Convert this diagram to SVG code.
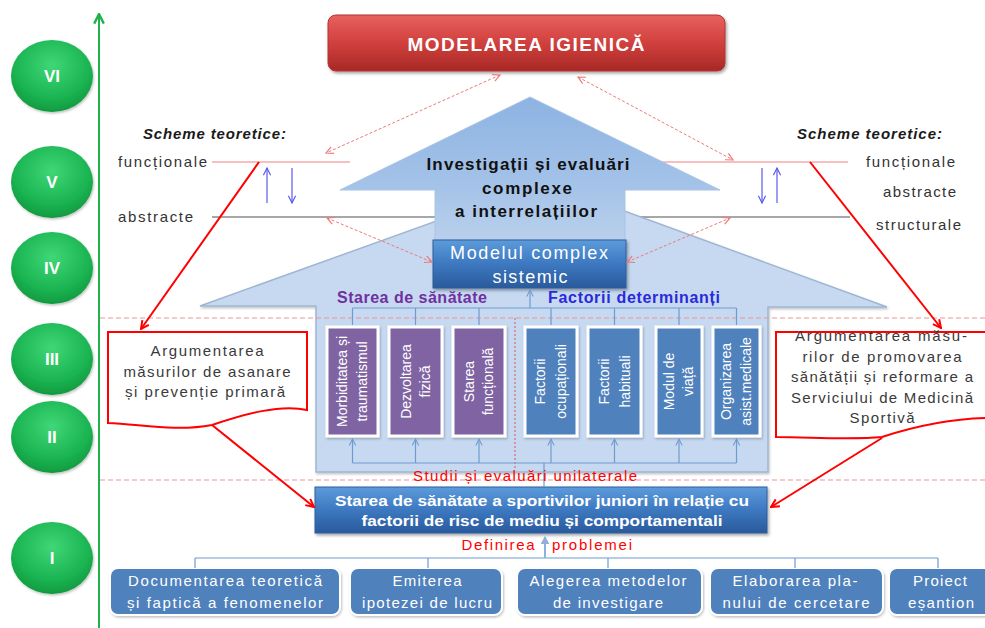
<svg xmlns="http://www.w3.org/2000/svg" width="985" height="628" viewBox="0 0 985 628">
<defs>
<style>
text{font-family:"Liberation Sans",Arial,sans-serif}
.num{fill:#fff;font-weight:bold;font-size:17px;text-anchor:middle}
.lbl{fill:#333;font-size:15px}
.sch{fill:#1a1a1a;font-size:15px;font-weight:bold;font-style:italic}
.arg{fill:#3a3a3a;font-size:15px;text-anchor:middle}
.col{fill:#fff;font-size:14px;text-anchor:middle}
.bot{fill:#fff;font-size:15px;text-anchor:middle}
.redt{fill:#FF0000;font-size:15px;text-anchor:middle}
.thick{stroke:#FF0000;stroke-width:2;fill:none}
.dash{stroke:#F07878;stroke-width:1;stroke-dasharray:3 2;fill:none}
.conn{stroke:#6F9BD1;stroke-width:1.2;fill:none}
.blue{stroke:#5A5AF0;stroke-width:1.2;fill:none}
.pcol{fill:#8064A2;stroke:#fff;stroke-width:3}
.bcol{fill:#4F81BD;stroke:#fff;stroke-width:3}
.bbox{fill:#4F81BD;stroke:#fff;stroke-width:2}
.doc{fill:#fff;stroke:#FF0000;stroke-width:2}
</style>
<radialGradient id="gGreen" cx="50%" cy="35%" r="65%">
<stop offset="0" stop-color="#3FD777"/>
<stop offset="0.7" stop-color="#1BB452"/>
<stop offset="1" stop-color="#109A3F"/>
</radialGradient>
<linearGradient id="gRed" x1="0" y1="0" x2="0" y2="1">
<stop offset="0" stop-color="#E8615E"/>
<stop offset="0.5" stop-color="#D0403D"/>
<stop offset="1" stop-color="#A82826"/>
</linearGradient>
<linearGradient id="gBlueBox" x1="0" y1="0" x2="0" y2="1">
<stop offset="0" stop-color="#5C9BDB"/>
<stop offset="0.5" stop-color="#3D78C0"/>
<stop offset="1" stop-color="#2A5A9C"/>
</linearGradient>
<linearGradient id="gArrow" x1="0" y1="0" x2="0" y2="1">
<stop offset="0" stop-color="#8DB3E2"/>
<stop offset="0.6" stop-color="#A3C2E8"/>
<stop offset="1" stop-color="#B9D0EC"/>
</linearGradient>
<filter id="sh" x="-10%" y="-10%" width="130%" height="140%">
<feDropShadow dx="1.5" dy="2" stdDeviation="1.5" flood-color="#000" flood-opacity="0.35"/>
</filter>
<filter id="shs" x="-10%" y="-10%" width="130%" height="130%">
<feDropShadow dx="1" dy="1.5" stdDeviation="1" flood-color="#000" flood-opacity="0.25"/>
</filter>
<marker id="mRed" viewBox="0 0 10 10" refX="9" refY="5" markerWidth="10" markerHeight="10" markerUnits="userSpaceOnUse" orient="auto">
<path d="M1,1 L9,5 L1,9" fill="none" stroke="#FF0000" stroke-width="2"/>
</marker>
<marker id="mDash" viewBox="0 0 10 10" refX="9" refY="5" markerWidth="9" markerHeight="9" markerUnits="userSpaceOnUse" orient="auto-start-reverse">
<path d="M1,1 L9,5 L1,9" fill="none" stroke="#F07878" stroke-width="1.3"/>
</marker>
<marker id="mBlue" viewBox="0 0 10 10" refX="9" refY="5" markerWidth="9" markerHeight="9" markerUnits="userSpaceOnUse" orient="auto">
<path d="M1,1 L9,5 L1,9" fill="none" stroke="#5A5AF0" stroke-width="1.3"/>
</marker>
<marker id="mConn" viewBox="0 0 10 10" refX="9" refY="5" markerWidth="8" markerHeight="8" markerUnits="userSpaceOnUse" orient="auto">
<path d="M1,1 L9,5 L1,9" fill="none" stroke="#6F9BD1" stroke-width="1.3"/>
</marker>
<marker id="mIcon" viewBox="0 0 10 10" refX="8" refY="5" markerWidth="9" markerHeight="9" markerUnits="userSpaceOnUse" orient="auto">
<path d="M0,0 L9,5 L0,10 Z" fill="#8FB0D8"/>
</marker>
<marker id="mGreen" viewBox="0 0 10 10" refX="9" refY="5" markerWidth="12" markerHeight="12" markerUnits="userSpaceOnUse" orient="auto">
<path d="M1,1 L9,5 L1,9" fill="none" stroke="#22B24C" stroke-width="2"/>
</marker>
</defs>

<rect width="985" height="628" fill="#fff"/>

<!-- level axis -->
<g id="axis">
<path d="M99,628 V14" stroke="#22B24C" stroke-width="2" fill="none" marker-end="url(#mGreen)"/>
</g>
<g id="level-VI"><ellipse cx="52" cy="76" rx="41" ry="36" fill="url(#gGreen)" filter="url(#shs)"/><text class="num" x="52" y="82">VI</text></g>
<g id="level-V"><ellipse cx="52" cy="182" rx="41" ry="36" fill="url(#gGreen)" filter="url(#shs)"/><text class="num" x="52" y="188">V</text></g>
<g id="level-IV"><ellipse cx="52" cy="268" rx="41" ry="36" fill="url(#gGreen)" filter="url(#shs)"/><text class="num" x="52" y="274">IV</text></g>
<g id="level-III"><ellipse cx="52" cy="359" rx="41" ry="36" fill="url(#gGreen)" filter="url(#shs)"/><text class="num" x="52" y="365">III</text></g>
<g id="level-II"><ellipse cx="52" cy="437" rx="41" ry="36" fill="url(#gGreen)" filter="url(#shs)"/><text class="num" x="52" y="443">II</text></g>
<g id="level-I"><ellipse cx="52" cy="558" rx="41" ry="36" fill="url(#gGreen)" filter="url(#shs)"/><text class="num" x="52" y="564">I</text></g>

<!-- scheme lines -->
<g id="scheme-lines">
<path d="M212,162 H350" stroke="#F08080" stroke-width="1.2" fill="none"/>
<path d="M655,162 H848" stroke="#F08080" stroke-width="1.2" fill="none"/>
<path d="M212,217 H440" stroke="#8A8A8A" stroke-width="1.5" fill="none"/>
<path d="M620,217 H850" stroke="#8A8A8A" stroke-width="1.5" fill="none"/>
</g>

<!-- house -->
<g id="house">
<polygon points="200,306 545,182 887,307 768,307 768,472 316,472 316,306" fill="#C6D9F1" stroke="#9FB6D3" stroke-width="1.5" filter="url(#shs)"/>
</g>

<!-- big arrow -->
<g id="investigatii">
<polygon points="530,97 720,190 625,190 625,240 435,240 435,190 340,190" fill="url(#gArrow)" stroke="#A9C4E4" stroke-width="1"/>
<text x="528" y="170" font-size="17" font-weight="bold" fill="#111" text-anchor="middle" textLength="203">Investigații și evaluări</text>
<text x="527" y="194" font-size="17" font-weight="bold" fill="#111" text-anchor="middle" textLength="90">complexe</text>
<text x="526" y="217" font-size="17" font-weight="bold" fill="#111" text-anchor="middle" textLength="142">a interrelațiilor</text>
</g>

<!-- top box -->
<g id="modelarea">
<rect x="328" y="15" width="397" height="56" rx="8" fill="url(#gRed)" stroke="#B33432" stroke-width="1" filter="url(#sh)"/>
<text x="526" y="51" font-size="19" font-weight="bold" fill="#fff" text-anchor="middle" textLength="237">MODELAREA IGIENICĂ</text>
</g>

<g id="modelul">
<rect x="433" y="240" width="193" height="48" fill="url(#gBlueBox)" stroke="#2E5F9E" stroke-width="1" filter="url(#sh)"/>
<text x="529" y="259" font-size="18" fill="#fff" text-anchor="middle" textLength="158">Modelul complex</text>
<text x="530" y="283" font-size="18" fill="#fff" text-anchor="middle" textLength="75">sistemic</text>
</g>

<!-- side labels -->
<g id="scheme-left">
<text class="sch" x="143" y="139" textLength="143">Scheme  teoretice:</text>
<text class="lbl" x="118" y="167" textLength="89">funcționale</text>
<text class="lbl" x="118" y="222" textLength="75">abstracte</text>
</g>
<g id="scheme-right">
<text class="sch" x="797" y="139" textLength="145">Scheme  teoretice:</text>
<text class="lbl" x="866" y="167" textLength="89">funcționale</text>
<text class="lbl" x="883" y="197" textLength="73">abstracte</text>
<text class="lbl" x="876" y="230" textLength="85">structurale</text>
</g>

<!-- group headings -->
<g id="heading-stare">
<text x="337" y="303" font-size="16" font-weight="bold" fill="#7030A0" textLength="150">Starea de sănătate</text>
</g>
<g id="heading-factori">
<text x="548" y="303" font-size="16" font-weight="bold" fill="#2A2ADB" textLength="172">Factorii determinanți</text>
</g>

<!-- columns -->
<g id="col-morbiditate"><rect class="pcol" x="327" y="327" width="51" height="109" filter="url(#shs)"/>
<text class="col" transform="translate(352.5,381.5) rotate(-90)"><tspan x="0" y="-6">Morbiditatea și</tspan><tspan x="0" y="14">traumatismul</tspan></text></g>
<g id="col-dezvoltare"><rect class="pcol" x="389" y="327" width="53" height="109" filter="url(#shs)"/>
<text class="col" transform="translate(415.5,381.5) rotate(-90)"><tspan x="0" y="-5">Dezvoltarea</tspan><tspan x="0" y="14">fizică</tspan></text></g>
<g id="col-functionala"><rect class="pcol" x="453" y="327" width="52" height="109" filter="url(#shs)"/>
<text class="col" transform="translate(479,381.5) rotate(-90)"><tspan x="0" y="-5">Starea</tspan><tspan x="0" y="14">funcțională</tspan></text></g>
<g id="col-ocupationali"><rect class="bcol" x="525" y="327" width="52" height="109" filter="url(#shs)"/>
<text class="col" transform="translate(551,381.5) rotate(-90)"><tspan x="0" y="-6">Factorii</tspan><tspan x="0" y="15">ocupaționali</tspan></text></g>
<g id="col-habituali"><rect class="bcol" x="588" y="327" width="53" height="109" filter="url(#shs)"/>
<text class="col" transform="translate(614.5,381.5) rotate(-90)"><tspan x="0" y="-6">Factorii</tspan><tspan x="0" y="15">habituali</tspan></text></g>
<g id="col-modviata"><rect class="bcol" x="656" y="327" width="46" height="109" filter="url(#shs)"/>
<text class="col" transform="translate(679,381.5) rotate(-90)"><tspan x="0" y="-5">Modul de</tspan><tspan x="0" y="14">viață</tspan></text></g>
<g id="col-asistenta"><rect class="bcol" x="713" y="327" width="47" height="109" filter="url(#shs)"/>
<text class="col" transform="translate(736.5,381.5) rotate(-90)"><tspan x="0" y="-6">Organizarea</tspan><tspan x="0" y="14">asist.medicale</tspan></text></g>

<!-- bottom main box -->
<g id="starea-box">
<rect x="315" y="487" width="452" height="46" fill="url(#gBlueBox)" stroke="#2E5F9E" stroke-width="1" filter="url(#sh)"/>
<text x="542" y="506" font-size="15" font-weight="bold" fill="#fff" text-anchor="middle" textLength="414" lengthAdjust="spacingAndGlyphs">Starea de sănătate a sportivilor  juniori în relație cu</text>
<text x="542" y="526" font-size="15" font-weight="bold" fill="#fff" text-anchor="middle" textLength="361" lengthAdjust="spacingAndGlyphs">factorii de risc de mediu și comportamentali</text>
</g>

<!-- argument boxes -->
<g id="arg-left">
<path class="doc" d="M108,332 H307 V410 C280,404 245,414 212,425 C175,432 140,424 108,423 Z"/>
<text class="arg" x="207" y="356" textLength="113">Argumentarea</text>
<text class="arg" x="207" y="377" textLength="167">măsurilor de asanare</text>
<text class="arg" x="205" y="397" textLength="160">și prevenție primară</text>
</g>
<g id="arg-right">
<path class="doc" d="M776,332 H992 V418 C950,418 910,428 882,437 C850,440 810,437 776,437 Z"/>
<text class="arg" x="881" y="341" textLength="172">Argumentarea  măsu-</text>
<text class="arg" x="882" y="362" textLength="159">rilor de promovarea</text>
<text class="arg" x="882" y="382" textLength="182">sănătății și reformare a</text>
<text class="arg" x="882" y="403" textLength="182">Serviciului  de Medicină</text>
<text class="arg" x="882" y="423" textLength="65">Sportivă</text>
</g>

<!-- bottom step boxes -->
<g id="step-documentare"><rect class="bbox" x="110" y="568" width="230" height="47" rx="8" filter="url(#shs)"/>
<text class="bot" x="225" y="586" textLength="194">Documentarea teoretică</text><text class="bot" x="225" y="608" textLength="196">și faptică  a  fenomenelor</text></g>
<g id="step-ipoteza"><rect class="bbox" x="350" y="568" width="152" height="47" rx="8" filter="url(#shs)"/>
<text class="bot" x="427" y="586" textLength="69">Emiterea</text><text class="bot" x="427" y="608" textLength="130">ipotezei de lucru</text></g>
<g id="step-metode"><rect class="bbox" x="517" y="568" width="185" height="47" rx="8" filter="url(#shs)"/>
<text class="bot" x="608" y="586" textLength="157">Alegerea  metodelor</text><text class="bot" x="608" y="608" textLength="110">de investigare</text></g>
<g id="step-plan"><rect class="bbox" x="710" y="568" width="173" height="47" rx="8" filter="url(#shs)"/>
<text class="bot" x="795" y="586" textLength="125">Elaborarea  pla-</text><text class="bot" x="796" y="608" textLength="147">nului de  cercetare</text></g>
<g id="step-esantion"><rect class="bbox" x="889" y="568" width="104" height="47" rx="8" filter="url(#shs)"/>
<text class="bot" x="940" y="586" textLength="54">Proiect</text><text class="bot" x="941" y="608" textLength="66">eșantion</text></g>

<!-- level separators -->
<g id="separators">
<path d="M100,318 H985" stroke="#E99595" stroke-width="1" stroke-dasharray="5 3" fill="none"/>
<path d="M100,480 H985" stroke="#E99595" stroke-width="1" stroke-dasharray="5 3" fill="none"/>
<path d="M515,318 V470" stroke="#E05555" stroke-width="1" stroke-dasharray="2 2" fill="none"/>
</g>

<!-- connectors -->
<g id="connectors">
<path class="dash" d="M500,75 L326,153" marker-start="url(#mDash)" marker-end="url(#mDash)"/>
<path class="dash" d="M578,77 L733,160" marker-start="url(#mDash)" marker-end="url(#mDash)"/>
<path class="dash" d="M327,218 L432,262" marker-start="url(#mDash)" marker-end="url(#mDash)"/>
<path class="dash" d="M627,262 L730,218" marker-start="url(#mDash)" marker-end="url(#mDash)"/>
<path class="blue" d="M267,203 V168" marker-end="url(#mBlue)"/>
<path class="blue" d="M292,168 V203" marker-end="url(#mBlue)"/>
<path class="blue" d="M762,168 V203" marker-end="url(#mBlue)"/>
<path class="blue" d="M777,203 V168" marker-end="url(#mBlue)"/>
<path class="thick" d="M259,162 L141,329" marker-end="url(#mRed)"/>
<path class="thick" d="M810,162 L941,328" marker-end="url(#mRed)"/>
<path class="thick" d="M212,425 L314,507" marker-end="url(#mRed)"/>
<path class="thick" d="M882,438 L771,507" marker-end="url(#mRed)"/>
<path class="conn" d="M352.5,308 H736.5 M352.5,308 V325 M415.5,308 V325 M479,308 V325 M551,308 V325 M614.5,308 V325 M679,308 V325 M736.5,308 V325"/>
<path class="conn" d="M530,308 V290" marker-end="url(#mConn)"/>
<path class="conn" d="M352.5,463 H736.5 M544,463 V487"/>
<path class="conn" d="M352.5,463 V439" marker-end="url(#mConn)"/>
<path class="conn" d="M415.5,463 V439" marker-end="url(#mConn)"/>
<path class="conn" d="M479,463 V439" marker-end="url(#mConn)"/>
<path class="conn" d="M551,463 V439" marker-end="url(#mConn)"/>
<path class="conn" d="M614.5,463 V439" marker-end="url(#mConn)"/>
<path class="conn" d="M679,463 V439" marker-end="url(#mConn)"/>
<path class="conn" d="M736.5,463 V439" marker-end="url(#mConn)"/>
<path class="conn" d="M195,558 H938 M195,558 V568 M428,558 V568 M608,558 V568 M795,558 V568 M938,558 V568"/>
<path d="M545,558 V537" stroke="#8FB0D8" stroke-width="2" fill="none" marker-end="url(#mIcon)"/>
</g>

<!-- red labels -->
<g id="label-studii"><text class="redt" x="525" y="481" textLength="224">Studii și evaluări  unilaterale</text></g>
<g id="label-definirea">
<text class="redt" x="498" y="550" textLength="73">Definirea</text>
<text class="redt" x="592" y="550" textLength="80">problemei</text>
</g>
</svg>
